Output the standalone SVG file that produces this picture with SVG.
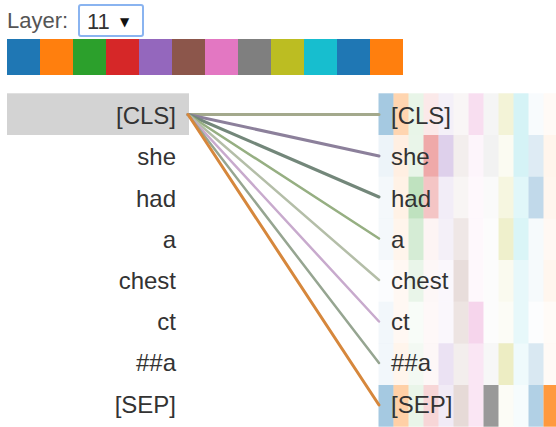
<svg xmlns="http://www.w3.org/2000/svg" width="556" height="427" viewBox="0 0 556 427">
<style>
.lbl{font-family:"Liberation Sans",Arial,sans-serif;font-size:22px;fill:#555}
.tok{font-family:"Liberation Sans",Arial,sans-serif;font-size:24px;fill:#333}
.l{text-anchor:end}
.conn{fill:none;stroke-linecap:round}
.c0,.c10{fill:#1f77b4}.c1,.c11{fill:#ff7f0e}.c2{fill:#2ca02c}.c3{fill:#d62728}.c4{fill:#9467bd}.c5{fill:#8c564b}.c6{fill:#e377c2}.c7{fill:#7f7f7f}.c8{fill:#bcbd22}.c9{fill:#17becf}
</style>
<rect width="556" height="427" fill="#fff"/>
<g id="layer-select">
<text class="lbl" x="7" y="28">Layer:</text>
<rect x="79" y="5" width="64" height="31" rx="2" fill="#fff" stroke="#8ab4f0" stroke-width="2"/>
<text x="87" y="29" font-family="Liberation Sans, Arial, sans-serif" font-size="22" fill="#333">11</text>
<text x="120" y="26" font-family="DejaVu Sans, sans-serif" font-size="12" fill="#111">▼</text>
</g>
<g id="head-colors">
<rect class="c0" x="7" y="39" width="33" height="36"/>
<rect class="c1" x="40" y="39" width="33" height="36"/>
<rect class="c2" x="73" y="39" width="33" height="36"/>
<rect class="c3" x="106" y="39" width="33" height="36"/>
<rect class="c4" x="139" y="39" width="33" height="36"/>
<rect class="c5" x="172" y="39" width="33" height="36"/>
<rect class="c6" x="205" y="39" width="33" height="36"/>
<rect class="c7" x="238" y="39" width="33" height="36"/>
<rect class="c8" x="271" y="39" width="33" height="36"/>
<rect class="c9" x="304" y="39" width="33" height="36"/>
<rect class="c10" x="337" y="39" width="33" height="36"/>
<rect class="c11" x="370" y="39" width="33" height="36"/>
</g>
<g id="heatmap">
<rect class="c0" x="378.5" y="93.3" width="15" height="41.7" fill-opacity="0.4"/>
<rect class="c0" x="378.5" y="135" width="15" height="41.7" fill-opacity="0.08"/>
<rect class="c0" x="378.5" y="176.7" width="15" height="41.7" fill-opacity="0.05"/>
<rect class="c0" x="378.5" y="218.3" width="15" height="41.7" fill-opacity="0.05"/>
<rect class="c0" x="378.5" y="260" width="15" height="41.7" fill-opacity="0.02"/>
<rect class="c0" x="378.5" y="301.7" width="15" height="41.7" fill-opacity="0.06"/>
<rect class="c0" x="378.5" y="343.3" width="15" height="41.7" fill-opacity="0.06"/>
<rect class="c0" x="378.5" y="385" width="15" height="41.7" fill-opacity="0.4"/>
<rect class="c1" x="393.5" y="93.3" width="15" height="41.7" fill-opacity="0.33"/>
<rect class="c1" x="393.5" y="135" width="15" height="41.7" fill-opacity="0.12"/>
<rect class="c1" x="393.5" y="176.7" width="15" height="41.7" fill-opacity="0.1"/>
<rect class="c1" x="393.5" y="218.3" width="15" height="41.7" fill-opacity="0.08"/>
<rect class="c1" x="393.5" y="260" width="15" height="41.7" fill-opacity="0.05"/>
<rect class="c1" x="393.5" y="301.7" width="15" height="41.7" fill-opacity="0.05"/>
<rect class="c1" x="393.5" y="343.3" width="15" height="41.7" fill-opacity="0.08"/>
<rect class="c1" x="393.5" y="385" width="15" height="41.7" fill-opacity="0.37"/>
<rect class="c2" x="408.5" y="93.3" width="15" height="41.7" fill-opacity="0.11"/>
<rect class="c2" x="408.5" y="135" width="15" height="41.7" fill-opacity="0.1"/>
<rect class="c2" x="408.5" y="176.7" width="15" height="41.7" fill-opacity="0.3"/>
<rect class="c2" x="408.5" y="218.3" width="15" height="41.7" fill-opacity="0.2"/>
<rect class="c2" x="408.5" y="260" width="15" height="41.7" fill-opacity="0.1"/>
<rect class="c2" x="408.5" y="301.7" width="15" height="41.7" fill-opacity="0.03"/>
<rect class="c2" x="408.5" y="343.3" width="15" height="41.7" fill-opacity="0.06"/>
<rect class="c2" x="408.5" y="385" width="15" height="41.7" fill-opacity="0.1"/>
<rect class="c3" x="423.5" y="93.3" width="15" height="41.7" fill-opacity="0.1"/>
<rect class="c3" x="423.5" y="135" width="15" height="41.7" fill-opacity="0.4"/>
<rect class="c3" x="423.5" y="176.7" width="15" height="41.7" fill-opacity="0.27"/>
<rect class="c3" x="423.5" y="218.3" width="15" height="41.7" fill-opacity="0.05"/>
<rect class="c3" x="423.5" y="260" width="15" height="41.7" fill-opacity="0.04"/>
<rect class="c3" x="423.5" y="301.7" width="15" height="41.7" fill-opacity="0.03"/>
<rect class="c3" x="423.5" y="343.3" width="15" height="41.7" fill-opacity="0.04"/>
<rect class="c3" x="423.5" y="385" width="15" height="41.7" fill-opacity="0.19"/>
<rect class="c4" x="438.5" y="93.3" width="15" height="41.7" fill-opacity="0.1"/>
<rect class="c4" x="438.5" y="135" width="15" height="41.7" fill-opacity="0.31"/>
<rect class="c4" x="438.5" y="176.7" width="15" height="41.7" fill-opacity="0.12"/>
<rect class="c4" x="438.5" y="218.3" width="15" height="41.7" fill-opacity="0.1"/>
<rect class="c4" x="438.5" y="260" width="15" height="41.7" fill-opacity="0.05"/>
<rect class="c4" x="438.5" y="301.7" width="15" height="41.7" fill-opacity="0.05"/>
<rect class="c4" x="438.5" y="343.3" width="15" height="41.7" fill-opacity="0.19"/>
<rect class="c4" x="438.5" y="385" width="15" height="41.7" fill-opacity="0.13"/>
<rect class="c5" x="453.5" y="93.3" width="15" height="41.7" fill-opacity="0.05"/>
<rect class="c5" x="453.5" y="135" width="15" height="41.7" fill-opacity="0.1"/>
<rect class="c5" x="453.5" y="176.7" width="15" height="41.7" fill-opacity="0.06"/>
<rect class="c5" x="453.5" y="218.3" width="15" height="41.7" fill-opacity="0.14"/>
<rect class="c5" x="453.5" y="260" width="15" height="41.7" fill-opacity="0.2"/>
<rect class="c5" x="453.5" y="301.7" width="15" height="41.7" fill-opacity="0.16"/>
<rect class="c5" x="453.5" y="343.3" width="15" height="41.7" fill-opacity="0.1"/>
<rect class="c5" x="453.5" y="385" width="15" height="41.7" fill-opacity="0.22"/>
<rect class="c6" x="468.5" y="93.3" width="15" height="41.7" fill-opacity="0.24"/>
<rect class="c6" x="468.5" y="135" width="15" height="41.7" fill-opacity="0.07"/>
<rect class="c6" x="468.5" y="176.7" width="15" height="41.7" fill-opacity="0.05"/>
<rect class="c6" x="468.5" y="218.3" width="15" height="41.7" fill-opacity="0.05"/>
<rect class="c6" x="468.5" y="260" width="15" height="41.7" fill-opacity="0.05"/>
<rect class="c6" x="468.5" y="301.7" width="15" height="41.7" fill-opacity="0.31"/>
<rect class="c6" x="468.5" y="343.3" width="15" height="41.7" fill-opacity="0.18"/>
<rect class="c6" x="468.5" y="385" width="15" height="41.7" fill-opacity="0.18"/>
<rect class="c7" x="483.5" y="93.3" width="15" height="41.7" fill-opacity="0.08"/>
<rect class="c7" x="483.5" y="135" width="15" height="41.7" fill-opacity="0.1"/>
<rect class="c7" x="483.5" y="176.7" width="15" height="41.7" fill-opacity="0.04"/>
<rect class="c7" x="483.5" y="218.3" width="15" height="41.7" fill-opacity="0.02"/>
<rect class="c7" x="483.5" y="260" width="15" height="41.7" fill-opacity="0.02"/>
<rect class="c7" x="483.5" y="301.7" width="15" height="41.7" fill-opacity="0.02"/>
<rect class="c7" x="483.5" y="343.3" width="15" height="41.7" fill-opacity="0.06"/>
<rect class="c7" x="483.5" y="385" width="15" height="41.7" fill-opacity="0.8"/>
<rect class="c8" x="498.5" y="93.3" width="15" height="41.7" fill-opacity="0.18"/>
<rect class="c8" x="498.5" y="135" width="15" height="41.7" fill-opacity="0.06"/>
<rect class="c8" x="498.5" y="176.7" width="15" height="41.7" fill-opacity="0.14"/>
<rect class="c8" x="498.5" y="218.3" width="15" height="41.7" fill-opacity="0.23"/>
<rect class="c8" x="498.5" y="260" width="15" height="41.7" fill-opacity="0.07"/>
<rect class="c8" x="498.5" y="301.7" width="15" height="41.7" fill-opacity="0.04"/>
<rect class="c8" x="498.5" y="343.3" width="15" height="41.7" fill-opacity="0.27"/>
<rect class="c8" x="498.5" y="385" width="15" height="41.7" fill-opacity="0.04"/>
<rect class="c9" x="513.5" y="93.3" width="15" height="41.7" fill-opacity="0.18"/>
<rect class="c9" x="513.5" y="135" width="15" height="41.7" fill-opacity="0.18"/>
<rect class="c9" x="513.5" y="176.7" width="15" height="41.7" fill-opacity="0.13"/>
<rect class="c9" x="513.5" y="218.3" width="15" height="41.7" fill-opacity="0.16"/>
<rect class="c9" x="513.5" y="260" width="15" height="41.7" fill-opacity="0.1"/>
<rect class="c9" x="513.5" y="301.7" width="15" height="41.7" fill-opacity="0.1"/>
<rect class="c9" x="513.5" y="343.3" width="15" height="41.7" fill-opacity="0.07"/>
<rect class="c9" x="513.5" y="385" width="15" height="41.7" fill-opacity="0.04"/>
<rect class="c10" x="528.5" y="93.3" width="15" height="41.7" fill-opacity="0.03"/>
<rect class="c10" x="528.5" y="135" width="15" height="41.7" fill-opacity="0.15"/>
<rect class="c10" x="528.5" y="176.7" width="15" height="41.7" fill-opacity="0.28"/>
<rect class="c10" x="528.5" y="218.3" width="15" height="41.7" fill-opacity="0.04"/>
<rect class="c10" x="528.5" y="260" width="15" height="41.7" fill-opacity="0.04"/>
<rect class="c10" x="528.5" y="301.7" width="15" height="41.7" fill-opacity="0.01"/>
<rect class="c10" x="528.5" y="343.3" width="15" height="41.7" fill-opacity="0.17"/>
<rect class="c10" x="528.5" y="385" width="15" height="41.7" fill-opacity="0.35"/>
<rect class="c11" x="543.5" y="93.3" width="15" height="41.7" fill-opacity="0.04"/>
<rect class="c11" x="543.5" y="135" width="15" height="41.7" fill-opacity="0.08"/>
<rect class="c11" x="543.5" y="176.7" width="15" height="41.7" fill-opacity="0.07"/>
<rect class="c11" x="543.5" y="218.3" width="15" height="41.7" fill-opacity="0.05"/>
<rect class="c11" x="543.5" y="260" width="15" height="41.7" fill-opacity="0.07"/>
<rect class="c11" x="543.5" y="301.7" width="15" height="41.7" fill-opacity="0.03"/>
<rect class="c11" x="543.5" y="343.3" width="15" height="41.7" fill-opacity="0.04"/>
<rect class="c11" x="543.5" y="385" width="15" height="41.7" fill-opacity="0.8"/>
</g>
<g id="left-tokens">
<g id="left-0"><rect x="7" y="93.3" width="182" height="41.7" fill="#d3d3d3"/><text class="tok l" x="176" y="124.2">[CLS]</text></g>
<g id="left-1"><text class="tok l" x="176" y="165.4">she</text></g>
<g id="left-2"><text class="tok l" x="176" y="206.6">had</text></g>
<g id="left-3"><text class="tok l" x="176" y="247.8">a</text></g>
<g id="left-4"><text class="tok l" x="176" y="289">chest</text></g>
<g id="left-5"><text class="tok l" x="176" y="330.2">ct</text></g>
<g id="left-6"><text class="tok l" x="176" y="371.4">##a</text></g>
<g id="left-7"><text class="tok l" x="176" y="412.6">[SEP]</text></g>
</g>
<g id="right-tokens">
<g id="right-0"><text class="tok" x="391" y="124.2">[CLS]</text></g>
<g id="right-1"><text class="tok" x="391" y="165.4">she</text></g>
<g id="right-2"><text class="tok" x="391" y="206.6">had</text></g>
<g id="right-3"><text class="tok" x="391" y="247.8">a</text></g>
<g id="right-4"><text class="tok" x="391" y="289">chest</text></g>
<g id="right-5"><text class="tok" x="391" y="330.2">ct</text></g>
<g id="right-6"><text class="tok" x="391" y="371.4">##a</text></g>
<g id="right-7"><text class="tok" x="391" y="412.6">[SEP]</text></g>
</g>
<g id="connectors">
<line class="conn" x1="188" y1="114.5" x2="379" y2="114.5" stroke="#a3a98c" stroke-width="3"/>
<line class="conn" x1="188" y1="114.5" x2="379" y2="156" stroke="#8c809b" stroke-width="3"/>
<line class="conn" x1="188" y1="114.5" x2="379" y2="197" stroke="#73877a" stroke-width="3"/>
<line class="conn" x1="188" y1="114.5" x2="379" y2="238.5" stroke="#96af82" stroke-width="2.5"/>
<line class="conn" x1="188" y1="114.5" x2="379" y2="280" stroke="#b4bea8" stroke-width="2.5"/>
<line class="conn" x1="188" y1="114.5" x2="379" y2="321.5" stroke="#c8aacd" stroke-width="2.5"/>
<line class="conn" x1="188" y1="114.5" x2="379" y2="363" stroke="#96a591" stroke-width="2.5"/>
<line class="conn" x1="188" y1="114.5" x2="379" y2="405" stroke="#d6873c" stroke-width="3"/>
</g>
</svg>
